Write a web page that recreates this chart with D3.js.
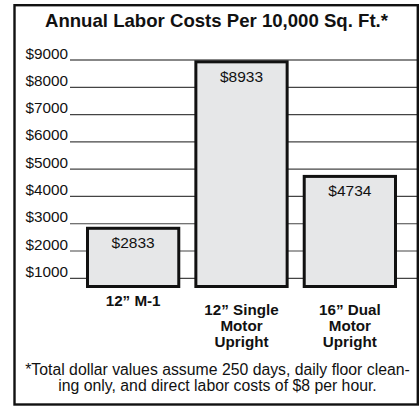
<!DOCTYPE html>
<html>
<head>
<meta charset="utf-8">
<script src="https://cdn.jsdelivr.net/npm/d3@7"></script>
<style>
  body { margin: 0; background: #fff; }
  svg { display: block; font-family: "Liberation Sans", Arial, sans-serif; }
</style>
</head>
<body>
<svg id="chart" width="420" height="406"></svg>
<script>
// data
const categories = ["12\u201D M-1", "12\u201D Single Motor Upright", "16\u201D Dual Motor Upright"];
const labelLines = [["12\u201D M-1"], ["12\u201D Single", "Motor", "Upright"], ["16\u201D Dual", "Motor", "Upright"]];
const costs = [2833, 8933, 4734];
const tickValues = [1000, 2000, 3000, 4000, 5000, 6000, 7000, 8000, 9000];
const title = "Annual Labor Costs Per 10,000 Sq. Ft.*";
const footnote = ["*Total dollar values assume 250 days, daily floor clean-",
                  "ing only, and direct labor costs of $8 per hour."];

const svg = d3.select("#chart");
const baseY = 286.5;   // bottom of the bars
const gridX0 = 70, gridX1 = 417;

const y = d3.scaleLinear().domain([1000, 9000]).range([278.3, 60]);
const x = d3.scaleBand().domain(categories).range([86, 397]).paddingInner(0.13).paddingOuter(0);

// title
svg.append("text")
  .attr("x", 216.5).attr("y", 27)
  .attr("text-anchor", "middle")
  .attr("font-size", 18.6).attr("font-weight", "bold")
  .attr("fill", "#111")
  .text(title);

// gridlines + tick labels
const ticks = svg.append("g");
ticks.selectAll("line")
  .data(tickValues)
  .enter().append("line")
  .attr("x1", gridX0).attr("x2", gridX1)
  .attr("y1", d => y(d)).attr("y2", d => y(d))
  .attr("stroke", d => d === 9000 ? "#111" : "#444")
  .attr("stroke-width", 1.2);

ticks.selectAll("text")
  .data(tickValues)
  .enter().append("text")
  .attr("x", 68).attr("y", d => y(d) - 1.5)
  .attr("text-anchor", "end")
  .attr("font-size", 15.3)
  .attr("fill", "#111")
  .text(d => "$" + d);

// bars
const bars = svg.append("g");
bars.selectAll("rect")
  .data(costs)
  .enter().append("rect")
  .attr("x", (d, i) => x(categories[i]) + 1.5)
  .attr("width", x.bandwidth() - 3)
  .attr("y", d => y(d))
  .attr("height", d => baseY - y(d))
  .attr("fill", "#e6e7e8")
  .attr("stroke", "#111")
  .attr("stroke-width", 3);

bars.selectAll("text")
  .data(costs)
  .enter().append("text")
  .attr("x", (d, i) => x(categories[i]) + x.bandwidth() / 2)
  .attr("y", d => y(d) + 20)
  .attr("text-anchor", "middle")
  .attr("font-size", 15.5)
  .attr("fill", "#111")
  .text(d => "$" + d);

// category labels
const cats = svg.append("g");
labelLines.forEach((lines, i) => {
  const t = cats.append("text")
    .attr("text-anchor", "middle")
    .attr("font-size", 15.2)
    .attr("font-weight", "bold")
    .attr("fill", "#111");
  const y0 = lines.length === 1 ? 305.7 : 314.5;
  lines.forEach((ln, j) => {
    t.append("tspan")
      .attr("x", x(categories[i]) + x.bandwidth() / 2)
      .attr("y", y0 + j * 16)
      .text(ln);
  });
});

// footnote
svg.append("g").selectAll("text")
  .data(footnote)
  .enter().append("text")
  .attr("x", 217.5).attr("y", (d, i) => 374.5 + i * 16.8)
  .attr("text-anchor", "middle")
  .attr("font-size", 15.8)
  .attr("fill", "#111")
  .text(d => d);

// outer frame
svg.append("rect")
  .attr("x", 14.5).attr("y", 5.2)
  .attr("width", 403.3).attr("height", 399.3)
  .attr("fill", "none")
  .attr("stroke", "#111")
  .attr("stroke-width", 2.4);
</script>
</body>
</html>
